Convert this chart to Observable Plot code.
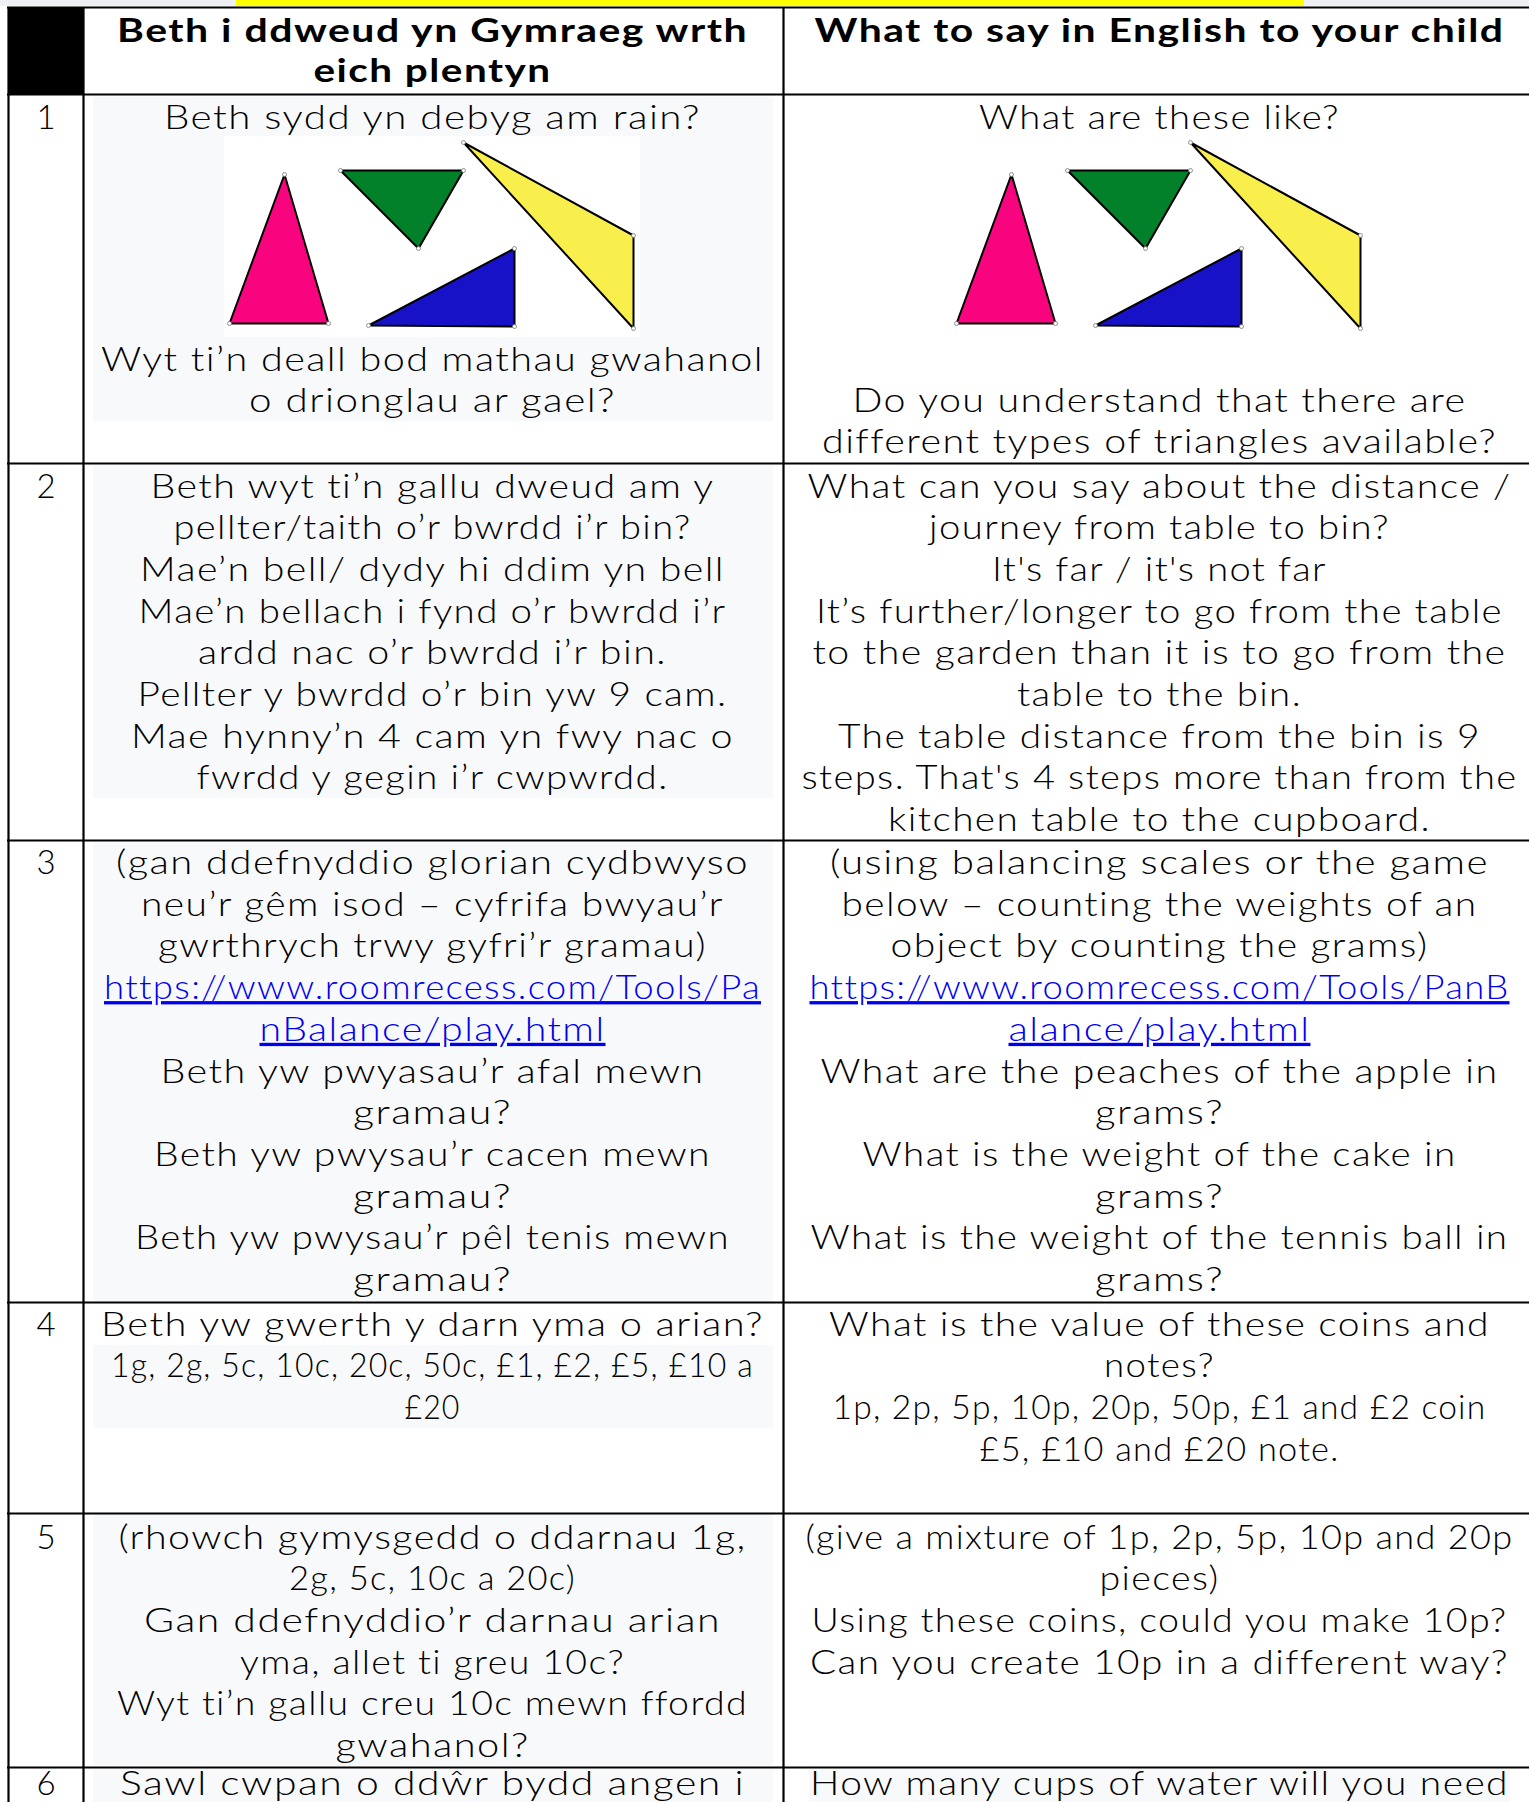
<!DOCTYPE html>
<html><head><meta charset="utf-8">
<script src="https://cdn.jsdelivr.net/npm/d3@7"></script>
<script src="https://cdn.jsdelivr.net/npm/@observablehq/plot@0.6"></script>
<style>
html,body{margin:0;padding:0;background:#fff;overflow:hidden;}
#chart svg{display:block;}
</style></head><body><div id="chart"></div>
<script>
// ---------------- DATA ----------------
const rowNumbers = ["1", "2", "3", "4", "5", "6"];
const headerWelsh = ["Beth i ddweud yn Gymraeg wrth", "eich plentyn"];
const headerEnglish = ["What to say in English to your child"];

const welshLink = ["https://www.roomrecess.com/Tools/Pa", "nBalance/play.html"];
const englishLink = ["https://www.roomrecess.com/Tools/PanB", "alance/play.html"];

const welshRows = [
  ["Beth sydd yn debyg am rain?", "Wyt ti’n deall bod mathau gwahanol", "o drionglau ar gael?"],
  ["Beth wyt ti’n gallu dweud am y", "pellter/taith o’r bwrdd i’r bin?", "Mae’n bell/ dydy hi ddim yn bell",
   "Mae’n bellach i fynd o’r bwrdd i’r", "ardd nac o’r bwrdd i’r bin.", "Pellter y bwrdd o’r bin yw 9 cam.",
   "Mae hynny’n 4 cam yn fwy nac o", "fwrdd y gegin i’r cwpwrdd."],
  ["(gan ddefnyddio glorian cydbwyso", "neu’r gêm isod – cyfrifa bwyau’r", "gwrthrych trwy gyfri’r gramau)",
   ...welshLink, "Beth yw pwyasau’r afal mewn", "gramau?", "Beth yw pwysau’r cacen mewn", "gramau?",
   "Beth yw pwysau’r pêl tenis mewn", "gramau?"],
  ["Beth yw gwerth y darn yma o arian?", "1g, 2g, 5c, 10c, 20c, 50c, £1, £2, £5, £10 a", "£20"],
  ["(rhowch gymysgedd o ddarnau 1g,", "2g, 5c, 10c a 20c)", "Gan ddefnyddio’r darnau arian",
   "yma, allet ti greu 10c?", "Wyt ti’n gallu creu 10c mewn ffordd", "gwahanol?"],
  ["Sawl cwpan o ddŵr bydd angen i"]
];

const englishRows = [
  ["What are these like?", "Do you understand that there are", "different types of triangles available?"],
  ["What can you say about the distance /", "journey from table to bin?", "It's far / it's not far",
   "It’s further/longer to go from the table", "to the garden than it is to go from the", "table to the bin.",
   "The table distance from the bin is 9", "steps. That's 4 steps more than from the", "kitchen table to the cupboard."],
  ["(using balancing scales or the game", "below – counting the weights of an", "object by counting the grams)",
   ...englishLink, "What are the peaches of the apple in", "grams?", "What is the weight of the cake in", "grams?",
   "What is the weight of the tennis ball in", "grams?"],
  ["What is the value of these coins and", "notes?", "1p, 2p, 5p, 10p, 20p, 50p, £1 and £2 coin", "£5, £10 and £20 note."],
  ["(give a mixture of 1p, 2p, 5p, 10p and 20p", "pieces)", "Using these coins, could you make 10p?",
   "Can you create 10p in a different way?"],
  ["How many cups of water will you need"]
];

// triangle picture (vertices in picture units)
const triangleColors = ["#f9047f", "#03802a", "#f8ef4d", "#1712c8"];
const triangleVertices = [
  [[60, 38], [5, 187], [104, 187]],
  [[116, 34], [239, 34], [194, 112]],
  [[239, 6], [409, 99], [409, 192]],
  [[144, 189], [290, 112], [290, 190]]
];

// ---------------- LAYOUT ----------------
const W = 1529, H = 1802;
const FS = 33, LH = 41.7;
const FONT = "Lato";
const colLines = [8, 83, 783];
const rowLines = [7, 94, 463, 840, 1302, 1513, 1767];
const firstBaseline = [128.3, 497, 873.5, 1335, 1548, 1794];
const row1Resume = {welsh: 370, english: 411};
const numX = 45.5, welshX = 432, englishX = 1159;
const picOrigins = [[224, 136], [951, 136]];
const picBox = {w: 416, h: 201};
const grayW = [93, 773], grayE = [809, 1510];
const grayBlocks = [
  [grayW, 97, 421], [grayW, 465, 798], [grayW, 842, 1301], [grayW, 1345, 1428],
  [grayW, 1515, 1765], [grayW, 1769, H], [grayE, 1769, H]
];
// rendered width of each line of text, as measured on the reference (px)
const lineWidths = {
  "Beth i ddweud yn Gymraeg wrth": 631, "eich plentyn": 238, "What to say in English to your child": 690,
  "Beth sydd yn debyg am rain?": 537, "Wyt ti’n deall bod mathau gwahanol": 663, "o drionglau ar gael?": 367,
  "What are these like?": 361, "Do you understand that there are": 614, "different types of triangles available?": 675,
  "Beth wyt ti’n gallu dweud am y": 564, "pellter/taith o’r bwrdd i’r bin?": 518, "Mae’n bell/ dydy hi ddim yn bell": 585,
  "Mae’n bellach i fynd o’r bwrdd i’r": 588, "ardd nac o’r bwrdd i’r bin.": 469, "Pellter y bwrdd o’r bin yw 9 cam.": 590,
  "Mae hynny’n 4 cam yn fwy nac o": 603, "fwrdd y gegin i’r cwpwrdd.": 472,
  "What can you say about the distance /": 704, "journey from table to bin?": 461, "It's far / it's not far": 335,
  "It’s further/longer to go from the table": 687, "to the garden than it is to go from the": 694,
  "table to the bin.": 285, "The table distance from the bin is 9": 643, "steps. That's 4 steps more than from the": 716,
  "kitchen table to the cupboard.": 543,
  "(gan ddefnyddio glorian cydbwyso": 633, "neu’r gêm isod – cyfrifa bwyau’r": 583, "gwrthrych trwy gyfri’r gramau)": 549,
  "https://www.roomrecess.com/Tools/Pa": 657, "nBalance/play.html": 346, "Beth yw pwyasau’r afal mewn": 544,
  "gramau?": 159, "Beth yw pwysau’r cacen mewn": 557, "Beth yw pwysau’r pêl tenis mewn": 595,
  "(using balancing scales or the game": 659, "below – counting the weights of an": 636, "object by counting the grams)": 538,
  "https://www.roomrecess.com/Tools/PanB": 700, "alance/play.html": 302, "What are the peaches of the apple in": 678,
  "grams?": 129, "What is the weight of the cake in": 594, "What is the weight of the tennis ball in": 698,
  "Beth yw gwerth y darn yma o arian?": 663, "1g, 2g, 5c, 10c, 20c, 50c, £1, £2, £5, £10 a": 643, "£20": 56,
  "What is the value of these coins and": 661, "notes?": 111, "1p, 2p, 5p, 10p, 20p, 50p, £1 and £2 coin": 654,
  "£5, £10 and £20 note.": 360,
  "(rhowch gymysgedd o ddarnau 1g,": 628, "2g, 5c, 10c a 20c)": 287, "Gan ddefnyddio’r darnau arian": 577,
  "yma, allet ti greu 10c?": 385, "Wyt ti’n gallu creu 10c mewn ffordd": 631, "gwahanol?": 194,
  "(give a mixture of 1p, 2p, 5p, 10p and 20p": 708, "pieces)": 120, "Using these coins, could you make 10p?": 696,
  "Can you create 10p in a different way?": 699,
  "Sawl cwpan o ddŵr bydd angen i": 625, "How many cups of water will you need": 699
};

// ---------------- BUILD TABLE ITEMS ----------------
const mid = b => b - 0.32 * FS; // baseline -> text middle
const texts = [];
headerWelsh.forEach((t, i) => texts.push({text: t, x: welshX, y: mid(41.7 + i * 40), kind: "bold"}));
headerEnglish.forEach((t, i) => texts.push({text: t, x: englishX, y: mid(41.7 + i * 40), kind: "bold"}));
rowNumbers.forEach((t, r) => texts.push({text: t, x: numX, y: mid(firstBaseline[r]), kind: "body"}));
function cell(lines, r, x, links, side) {
  lines.forEach((t, i) => {
    let b = firstBaseline[r] + i * LH;
    if (r === 0 && i > 0) b = row1Resume[side] + (i - 1) * LH;
    texts.push({text: t, x, y: mid(b), kind: links.includes(t) ? "link" : "body"});
  });
}
welshRows.forEach((lines, r) => cell(lines, r, welshX, welshLink, "welsh"));
englishRows.forEach((lines, r) => cell(lines, r, englishX, englishLink, "english"));

const rects = [
  {x1: 0, x2: 236, y1: 0, y2: 6, fill: "#eef0f3"},
  {x1: 236, x2: 1304, y1: 0, y2: 6, fill: "#ffff00"},
  {x1: 1304, x2: W, y1: 0, y2: 6, fill: "#eef0f3"},
  ...grayBlocks.map(([[a, b], y1, y2]) => ({x1: a, x2: b, y1, y2, fill: "#f8f9fa"})),
  {x1: picOrigins[0][0], x2: picOrigins[0][0] + picBox.w, y1: picOrigins[0][1], y2: picOrigins[0][1] + picBox.h, fill: "#ffffff"},
  {x1: colLines[0], x2: colLines[1], y1: rowLines[0], y2: rowLines[1], fill: "#000000"}
];

const triMarks = [];
const verts = [];
picOrigins.forEach(([ox, oy]) => {
  triangleVertices.forEach((pts, i) => {
    triMarks.push(Plot.line(pts, {
      x: p => ox + p[0], y: p => oy + p[1], curve: "linear-closed",
      fill: triangleColors[i], stroke: "#000", strokeWidth: 2
    }));
    pts.forEach(p => verts.push([ox + p[0], oy + p[1]]));
  });
});

const textOpts = (kind) => ({
  x: "x", y: "y", text: "text", textAnchor: "middle", lineAnchor: "middle",
  fontFamily: FONT, fontSize: FS, fontWeight: kind === "bold" ? 700 : 300,
  fill: kind === "link" ? "#0000ee" : "#000000"
});

const svg = Plot.plot({
  width: W, height: H, margin: 0,
  x: {domain: [0, W], range: [0, W], axis: null},
  y: {domain: [0, H], range: [0, H], axis: null},
  color: {type: "identity"},
  style: {background: "#ffffff"},
  marks: [
    Plot.rect(rects, {x1: "x1", x2: "x2", y1: "y1", y2: "y2", fill: "fill"}),
    ...triMarks,
    Plot.dot(verts, {x: d => d[0], y: d => d[1], r: 2, fill: "#ffffff", stroke: "#777", strokeWidth: 0.8}),
    Plot.ruleY(rowLines, {y: d => d, x1: colLines[0] - 1, x2: W, stroke: "#000", strokeWidth: 2.2}),
    Plot.ruleX(colLines, {x: d => d, y1: rowLines[0], y2: H, stroke: "#000", strokeWidth: 2.2}),
    Plot.text(texts.filter(d => d.kind === "body"), textOpts("body")),
    Plot.text(texts.filter(d => d.kind === "link"), textOpts("link")),
    Plot.text(texts.filter(d => d.kind === "bold"), textOpts("bold"))
  ]
});
document.getElementById("chart").appendChild(svg);

// fit each line to its measured width (the reference font is wider than any installed one)
const [gBody, gLink, gBold] = svg.querySelectorAll('g[aria-label="text"]');
[gBody, gLink, gBold].forEach(g => {
  if (!g) return;
  g.querySelectorAll("text").forEach(t => {
    const w = lineWidths[t.textContent];
    if (w) {
      t.style.letterSpacing = "1.2px";
      t.setAttribute("textLength", w);
      t.setAttribute("lengthAdjust", "spacingAndGlyphs");
    }
  });
});
if (gLink) gLink.querySelectorAll("text").forEach(t => t.style.textDecoration = "underline");
</script></body></html>
